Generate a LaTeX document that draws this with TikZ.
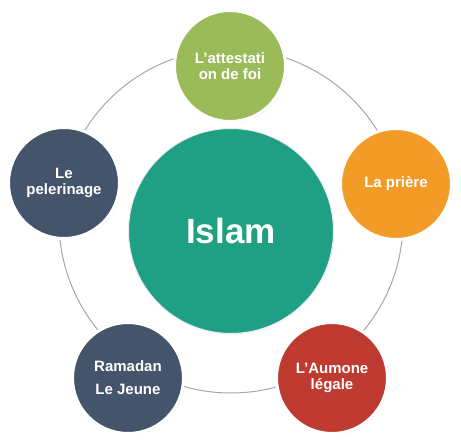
\documentclass[tikz,border=0pt]{standalone}
\usepackage{fontspec}
\setmainfont{Liberation Sans}
\usepackage{xcolor}
\usepackage{tikz}
\usetikzlibrary{shadows}

\definecolor{islamteal}{HTML}{1FA084}
\definecolor{foigreen}{HTML}{9BBB59}
\definecolor{prierorange}{HTML}{F29B26}
\definecolor{aumonered}{HTML}{BF3A30}
\definecolor{slateblue}{HTML}{44546A}
\definecolor{ringgray}{HTML}{A6A6A6}

\tikzset{
  pillar/.style={circle, draw=white, line width=3pt, minimum size=111pt,
    text=white, align=center, inner sep=0pt,
    font=\bfseries\fontsize{15}{16}\selectfont,
    circular drop shadow={shadow xshift=1.5pt, shadow yshift=-2pt,
      shadow scale=1.0, opacity=0.35}},
  hub/.style={circle, draw=white!85!gray, line width=1pt, minimum size=205pt,
    fill=islamteal, text=white, inner sep=0pt,
    font=\bfseries\fontsize{35}{38}\selectfont,
    circular drop shadow={shadow xshift=1.5pt, shadow yshift=-2pt,
      shadow scale=1.0, opacity=0.3}}
}

\begin{document}
\begin{tikzpicture}[x=1pt, y=-1pt]
  \useasboundingbox (0,0) rectangle (461,447);
  % ring behind the five pillars
  \coordinate (ringc) at (231,221);
  \draw[ringgray, line width=1pt] (ringc) circle [radius=172pt];
  \node[hub] (islam) at (231,231) {Islam};
  \node[pillar, fill=foigreen] (foi) at (230,66) {L’attestati\\on de foi};
  \node[pillar, fill=prierorange] (priere) at (396,184) {La prière};
  \node[pillar, fill=aumonered] (aumone) at (332,378) {L’Aumone\\légale};
  \node[pillar, fill=slateblue] (jeune) at (128,378) {Ramadan\\[7pt]Le Jeune};
  \node[pillar, fill=slateblue] (hajj) at (64,183) {Le\\pelerinage};
\end{tikzpicture}
\end{document}
